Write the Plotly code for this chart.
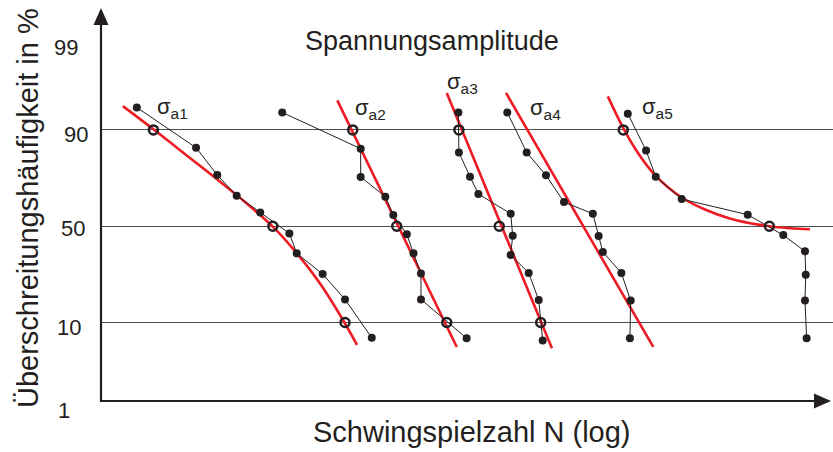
import plotly.graph_objects as go
from statistics import NormalDist

# --- data -----------------------------------------------------------------
# Schwingspielzahl N der Einzelproben (aufsteigend) und Überschreitungshäufigkeit in %
n_a1 = [17600, 43700, 60500, 81500, 117000, 183000, 205000, 305000, 430000, 648000]
p_a1 = [94.3, 85.2, 75.2, 65.8, 57.3, 46.2, 35.9, 26.2, 16.5, 6.9]

n_a2 = [164000, 547000, 547000, 798000, 902000, 1110000, 1230000, 1380000, 1380000, 2780000]
p_a2 = [93.5, 84.9, 74.4, 65.3, 55.9, 45.7, 35.9, 26.5, 16.5, 6.8]

n_a3 = [2450000, 2470000, 2930000, 3330000, 5470000, 5640000, 5470000, 7210000, 8410000, 8940000]
p_a3 = [93.5, 83.7, 74.5, 66.6, 56.6, 45.0, 35.1, 26.7, 16.3, 6.4]

n_a4 = [5190000, 6990000, 9400000, 12400000, 19300000, 21100000, 22500000, 29900000, 34500000, 34100000]
p_a4 = [93.5, 83.7, 75.1, 62.6, 56.6, 44.8, 36.6, 26.7, 16.1, 6.8]

n_a5 = [33000000, 43700000, 50700000, 75500000, 208000000, 359000000, 501000000, 507000000, 501000000, 514000000]
p_a5 = [93.3, 84.3, 74.5, 64.1, 56.1, 45.3, 36.9, 25.9, 16.1, 6.8]

# Ausgleichskurven (Verteilungsfunktion im Wahrscheinlichkeitsnetz)
fit_n_a1 = [14200, 22600, 39800, 60300, 85800, 142000, 206000, 293000, 417000, 517000]
fit_p_a1 = [94.5, 90.2, 81.8, 73.4, 64.7, 49.8, 35.8, 22.3, 10.6, 5.7]
fit_n_a2 = [382000, 2390000]
fit_p_a2 = [95.3, 5.4]
fit_n_a3 = [2050000, 10300000]
fit_p_a3 = [96.2, 5.2]
fit_n_a4 = [5090000, 48800000]
fit_p_a4 = [96.2, 5.4]
fit_n_a5 = [24300000, 30800000, 38600000, 50100000, 75500000, 108000000,
            158000000, 251000000, 398000000, 541000000]
fit_p_a5 = [95.8, 90.4, 83.5, 75.2, 64.9, 58.8, 54.1, 50.7, 48.9, 48.4]

# Quantile der Ausgleichskurven (offene Kreise)
quantile_levels = [90, 50, 10]
qn_a1 = [22700, 142000, 430000]
qn_a2 = [484000, 951000, 2050000]
qn_a3 = [2470000, 4590000, 8670000]
qn_a5 = [30800000, 290000000]

series_names = ["a1", "a2", "a3", "a4", "a5"]
prob_ticks = [1, 10, 50, 90, 99]
prob_ticktext = ["1", "10", "50", "90", "99"]
grid_levels = [10, 50, 90]

# --- helpers --------------------------------------------------------------
_nd = NormalDist()


def q(p):
    """Percent -> standard normal quantile (probability paper ordinate)."""
    return _nd.inv_cdf(p / 100.0)


def qs(ps):
    return [q(p) for p in ps]


W, H = 833, 452
ML, MR, MT, MB = 100, 0, 8, 50
PW, PH = W - ML - MR, H - MT - MB


def fx(px):
    return (px - ML) / PW


def fy(py):
    return (H - MB - py) / PH


INK = "#231f20"
RED = "#ed1c24"
FONT = "Liberation Sans, Arial, Helvetica, sans-serif"

fig = go.Figure()

# fitted distribution curves
for fn, fp in [(fit_n_a1, fit_p_a1), (fit_n_a2, fit_p_a2), (fit_n_a3, fit_p_a3),
               (fit_n_a4, fit_p_a4), (fit_n_a5, fit_p_a5)]:
    fig.add_trace(go.Scatter(x=fn, y=qs(fp), mode="lines",
                             line=dict(color=RED, width=2.6, shape="spline", smoothing=0.9),
                             hoverinfo="skip", showlegend=False))

# individual specimens, connected in rank order
for nn, pp, name in [(n_a1, p_a1, "a1"), (n_a2, p_a2, "a2"), (n_a3, p_a3, "a3"),
                     (n_a4, p_a4, "a4"), (n_a5, p_a5, "a5")]:
    fig.add_trace(go.Scatter(x=nn, y=qs(pp), mode="lines+markers", name=name,
                             line=dict(color=INK, width=1),
                             marker=dict(color=INK, size=8, symbol="circle"),
                             showlegend=False))

# quantile points on the fitted curves
for qn in [qn_a1, qn_a2, qn_a3, qn_a5]:
    fig.add_trace(go.Scatter(x=qn, y=qs(quantile_levels[:len(qn)]), mode="markers",
                             marker=dict(symbol="circle-open", size=9, color=INK,
                                         line=dict(color=INK, width=2.5)),
                             showlegend=False))

# axes drawn as arrows (shaft + filled head)
shapes = [
    dict(type="line", xref="paper", yref="paper", x0=fx(101), y0=fy(402), x1=fx(101), y1=fy(22),
         line=dict(color=INK, width=2.2)),
    dict(type="path", xref="paper", yref="paper",
         path=f"M {fx(101)} {fy(8)} L {fx(93.5)} {fy(25)} L {fx(108.5)} {fy(25)} Z",
         fillcolor=INK, line=dict(width=0)),
    dict(type="line", xref="paper", yref="paper", x0=fx(100), y0=fy(401), x1=fx(816), y1=fy(401),
         line=dict(color=INK, width=2.2)),
    dict(type="path", xref="paper", yref="paper",
         path=f"M {fx(831)} {fy(401)} L {fx(814)} {fy(393.5)} L {fx(814)} {fy(408.5)} Z",
         fillcolor=INK, line=dict(width=0)),
]

annotations = []

# probability tick labels
tick_right = [72, 83, 87, 90, 80]
tick_shift = [-9, -5, -2, -5, 4]
for v, t, xr, sh in zip(prob_ticks, prob_ticktext, tick_right, tick_shift):
    annotations.append(dict(xref="paper", yref="y", x=fx(xr), y=q(v), yshift=sh,
                            xanchor="right", yanchor="middle", text=t, showarrow=False,
                            font=dict(family=FONT, size=22, color=INK)))

# series labels
label_pos = [(155, 108), (353, 109), (445, 83), (528, 109), (640, 108)]
for name, (lx, ly) in zip(series_names, label_pos):
    annotations.append(dict(xref="paper", yref="paper", x=fx(lx), y=fy(ly),
                            xanchor="left", yanchor="middle",
                            text="σ<sub>" + name + "</sub>", showarrow=False,
                            font=dict(family=FONT, size=22, color=INK)))

# titles
annotations.append(dict(xref="paper", yref="paper", x=fx(432), y=fy(41),
                        xanchor="center", yanchor="middle", text="Spannungsamplitude",
                        showarrow=False, font=dict(family=FONT, size=27, color=INK)))
annotations.append(dict(xref="paper", yref="paper", x=fx(472), y=fy(432),
                        xanchor="center", yanchor="middle", text="Schwingspielzahl N (log)",
                        showarrow=False, font=dict(family=FONT, size=29, color=INK)))
annotations.append(dict(xref="paper", yref="paper", x=fx(28), y=fy(208),
                        xanchor="center", yanchor="middle", textangle=-90,
                        text="Überschreitungshäufigkeit in %",
                        showarrow=False, font=dict(family=FONT, size=29, color=INK)))

fig.update_layout(
    width=W, height=H,
    margin=dict(l=ML, r=MR, t=MT, b=MB, pad=0),
    paper_bgcolor="white", plot_bgcolor="white",
    showlegend=False,
    shapes=shapes,
    annotations=annotations,
    xaxis=dict(type="log", range=[4, 4 + PW / 150], showgrid=False, zeroline=False,
               showline=False, showticklabels=False, ticks=""),
    yaxis=dict(range=[q(0.965), q(99.816)], tickvals=qs(grid_levels), showticklabels=False,
               ticks="", showgrid=True, gridcolor="#4d4d4d", gridwidth=1,
               zeroline=False, showline=False),
)

fig.write_html("out.html")
